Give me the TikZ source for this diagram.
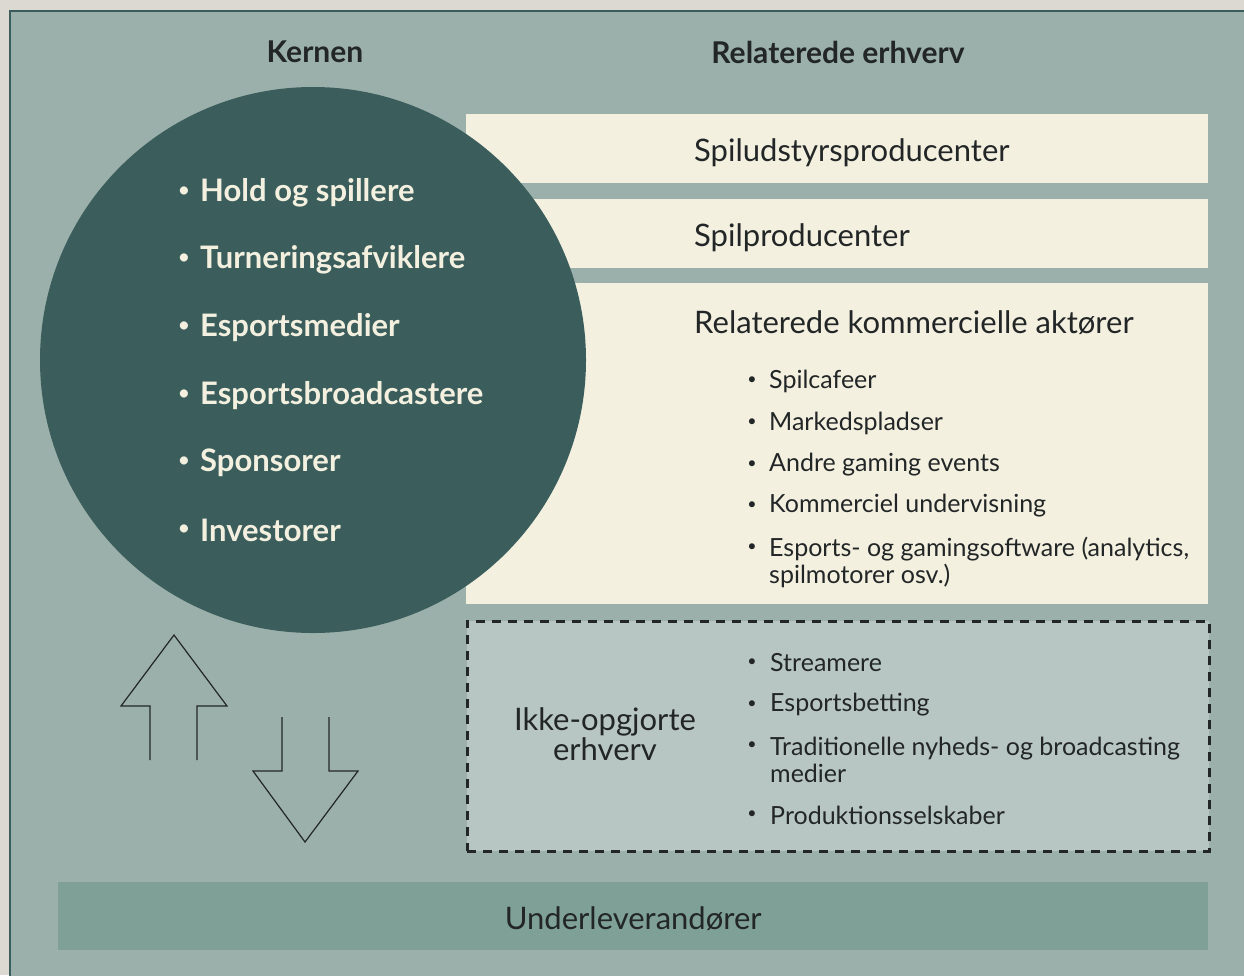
\documentclass[tikz,border=0pt]{standalone}
\usepackage{fontspec}
\setmainfont{Lato}
\usetikzlibrary{positioning}
\definecolor{page}{HTML}{DCD9D3}
\definecolor{panel}{HTML}{9BB0AB}
\definecolor{core}{HTML}{3B5E5C}
\definecolor{cream}{HTML}{F3F0E0}
\definecolor{pale}{HTML}{B8C6C3}
\definecolor{supply}{HTML}{7FA097}
\definecolor{ink}{HTML}{222626}
\tikzset{band/.style = {fill=cream,minimum width=742pt,anchor=north west,inner sep=0pt},
  head/.style = {font=\fontsize{30}{34}\selectfont\bfseries,text=ink},
  coreitem/.style = {anchor=west,yshift=-2.5pt,font=\fontsize{31}{36}\selectfont\bfseries,text=cream,inner sep=0pt},
  title/.style = {anchor=west,yshift=-2.5pt,font=\fontsize{31}{30}\selectfont,text=ink,inner sep=0pt},
  item/.style = {anchor=west,yshift=-2pt,align=left,font=\fontsize{25}{27}\selectfont,text=ink,inner sep=0pt},
  dot/.style = {yshift=-2pt,font=\fontsize{16}{20}\selectfont,text=ink,inner sep=0pt},
  outline/.style = {draw=ink,line width=1.2pt}}

\begin{document}
\begin{tikzpicture}[x=1pt,y=-1pt]
    \fill[page] (0,0) rectangle (1244,975);
    \useasboundingbox (0,0) rectangle (1244,975);
    \draw[core,line width=2pt,fill=panel] (10,11) rectangle (1260,990);
    % headings
    \node[head] (h1) at (315,52) {Kernen};
    \node[head] (h2) at (838,52) {Relaterede erhverv};
    % related trades
    \node[band,minimum height=69pt] (b1) at (466,114) {};
    \node[band,minimum height=69pt] (b2) at (466,199) {};
    \node[band,minimum height=321pt] (b3) at (466,283) {};
    \node[title] (t1) at (694,150) {Spiludstyrsproducenter};
    \node[title] (t2) at (694,235) {Spilproducenter};
    \node[title] (t3) at (694,320) {Relaterede kommercielle aktører};
    \foreach \y/\txt in {379/Spilcafeer,421/Markedspladser,463/Andre gaming events,504/Kommerciel undervisning} {
        \node[dot] at (752,\y) {•};
        \node[item] at (769,\y) {\txt};
    }
    \node[dot] at (752,546) {•};
    \node[item] (sw) at (769,560) {Esports- og gamingsoftware (analytics,\\spilmotorer osv.)};
    % the core
    \node[circle,fill=core,minimum size=546pt,inner sep=0pt] (kerne) at (313,360) {};
    \foreach \y/\txt in {190/Hold og spillere,257/Turneringsafviklere,325/Esportsmedier,393/Esportsbroadcastere,460/Sponsorer,528/Investorer} {
        \node[dot,text=cream,font=\fontsize{22}{22}\selectfont] at (184,\y) {•};
        \node[coreitem] at (200,\y) {\txt};
    }
    % not counted
    \node[band,fill=pale,draw=ink,line width=2.5pt,dash pattern=on 9pt off 7pt,minimum height=230pt] (ikke) at (466,620) {};
    \node[title,anchor=center,align=center] (t4) at (605,732) {Ikke-opgjorte\\erhverv};
    \foreach \y/\txt in {661/Streamere,703/Esportsbetting,813/Produktionsselskaber} {
        \node[dot] at (752,\y) {•};
        \node[item] at (770,\y) {\txt};
    }
    \node[dot] at (752,744) {•};
    \node[item] (trad) at (770,758) {Traditionelle nyheds- og broadcasting\\medier};
    % suppliers
    \node[fill=supply,minimum width=1150pt,minimum height=68pt,anchor=north west,inner sep=0pt] (under) at (58,882) {};
    \node[title,anchor=center] at (under.center) {Underleverandører};
    % arrows
    \draw[outline] (150,760) -- (150,706) -- (121,706) -- (174,635) -- (227,706) -- (197,706) -- (197,760);
    \draw[outline] (282,717) -- (282,771) -- (253,771) -- (305,842) -- (358,771) -- (329,771) -- (329,717);
\end{tikzpicture}
\end{document}
